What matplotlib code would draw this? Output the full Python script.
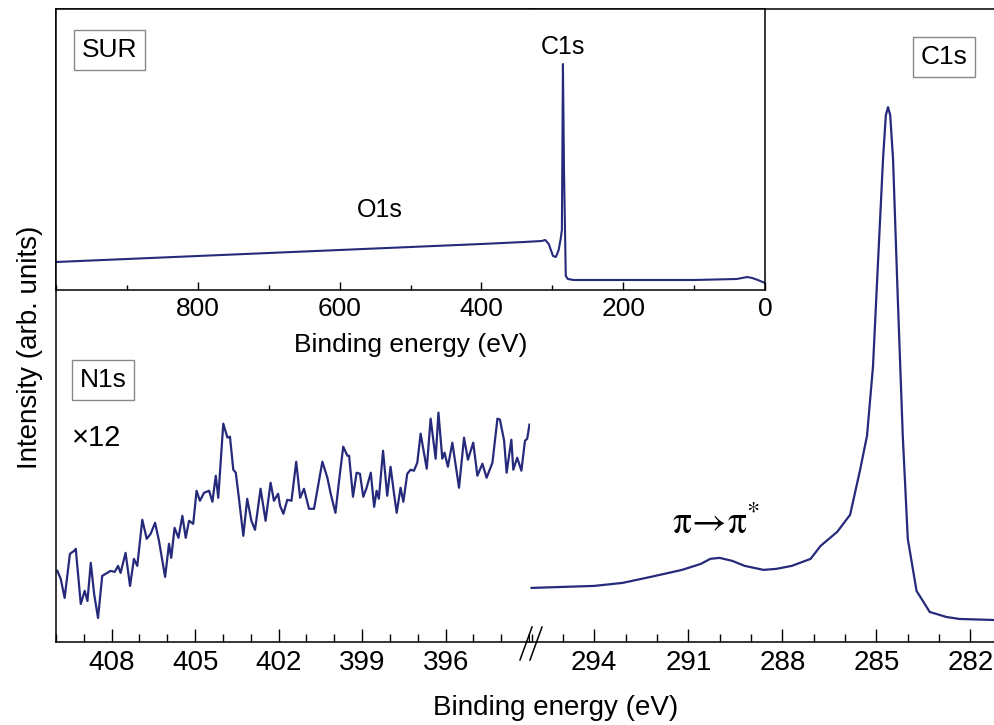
import matplotlib.pyplot as plt
from matplotlib.lines import Line2D
from matplotlib.ticker import MultipleLocator

plt.rcParams['font.family'] = ['Liberation Sans', 'DejaVu Sans']
plt.rcParams['mathtext.fontset'] = 'stix'

LINE = '#262a7a'

# N1s region (x12), binding energy in eV / intensity (arb.)
n1s_energy = [409.95, 409.83, 409.69, 409.50, 409.35, 409.29, 409.11, 408.97, 408.87, 408.75,
              408.63, 408.49, 408.34, 408.22, 408.04, 407.89, 407.77, 407.68, 407.50, 407.34,
              407.20, 407.08, 406.90, 406.74, 406.60, 406.44, 406.30, 406.08, 405.94, 405.86,
              405.74, 405.60, 405.46, 405.34, 405.22, 405.07, 404.95, 404.83, 404.68, 404.50,
              404.38, 404.26, 404.17, 403.99, 403.84, 403.75, 403.63, 403.54, 403.43, 403.27,
              403.13, 402.98, 402.85, 402.65, 402.47, 402.29, 402.17, 402.02, 401.95, 401.83,
              401.69, 401.54, 401.37, 401.23, 401.09, 400.91, 400.73, 400.43, 400.25, 400.13,
              399.96, 399.83, 399.68, 399.53, 399.47, 399.33, 399.20, 399.08, 398.96, 398.84,
              398.69, 398.57, 398.48, 398.40, 398.25, 398.10, 397.98, 397.86, 397.76, 397.62,
              397.52, 397.38, 397.26, 397.14, 397.02, 396.90, 396.68, 396.54, 396.36, 396.26,
              396.12, 396.04, 395.92, 395.76, 395.52, 395.34, 395.20, 395.01, 394.86, 394.68,
              394.53, 394.32, 394.14, 394.05, 393.90, 393.81, 393.64, 393.57, 393.43, 393.28,
              393.15, 393.07, 392.99]
n1s_counts = [71, 63, 44, 88, 91, 93, 38, 51, 41, 79,
              48, 24, 66, 68, 71, 70, 76, 69, 89, 56,
              83, 76, 122, 103, 108, 119, 101, 65, 98, 84,
              114, 104, 126, 104, 121, 118, 151, 141, 149, 151,
              140, 166, 144, 218, 204, 205, 172, 169, 144, 106,
              143, 121, 112, 153, 121, 159, 141, 148, 136, 128,
              142, 141, 180, 144, 153, 133, 133, 180, 164, 148,
              129, 161, 195, 186, 186, 145, 169, 168, 145, 154,
              169, 135, 151, 143, 191, 146, 175, 149, 129, 154,
              140, 168, 172, 171, 179, 208, 173, 223, 183, 229,
              183, 189, 175, 199, 154, 204, 182, 199, 166, 178,
              164, 179, 223, 222, 201, 169, 202, 172, 184, 171,
              201, 203, 217]

# C1s region
c1s_energy = [296.0, 295.0, 294.0, 293.1, 292.2, 291.2, 290.6, 290.3, 290.0, 289.6,
              289.2, 288.6, 288.2, 287.7, 287.1, 286.78, 286.25, 285.84, 285.52, 285.30,
              285.11, 284.95, 284.79, 284.70, 284.63, 284.56, 284.47, 284.32, 284.16, 284.00,
              283.72, 283.30, 282.77, 282.35, 281.28]
c1s_counts = [54, 55, 56, 59, 65, 72, 78, 83, 84, 81,
              76, 72, 73, 76, 83, 96, 110, 127, 172, 206,
              275, 379, 482, 526, 534, 526, 482, 344, 206, 103,
              51, 30, 25, 23, 22]

# survey (inset)
sur_energy = [1000, 900, 800, 700, 600, 500, 400, 340, 315, 310, 305, 299, 295, 291,
              288, 286.5, 285, 283.5, 281, 278, 270, 200, 100, 40, 25, 18, 10, 0]
sur_counts = [28, 31, 34, 37, 40, 43, 46, 48, 49, 50, 46, 34, 33, 40,
              52, 60, 226, 120, 14, 11, 10, 10, 10, 11, 13, 12, 10, 7]
sur_ticks = [800, 600, 400, 200, 0]

W, H = 994, 725
fig = plt.figure(figsize=(W / 100, H / 100), dpi=100)

x0, x_brk, x1 = 56 / W, 530 / W, 1.0
y0, y1 = 1 - 642 / H, 1 - 9 / H

axl = fig.add_axes([x0, y0, x_brk - x0, y1 - y0])
axr = fig.add_axes([x_brk, y0, x1 - x_brk, y1 - y0])

axl.plot(n1s_energy, n1s_counts, color=LINE, lw=1.6)
axr.plot(c1s_energy, c1s_counts, color=LINE, lw=1.6)

axl.set_xlim(410, 392.97)
axr.set_xlim(296.05, 281.25)
for ax in (axl, axr):
    ax.set_ylim(0, 632)
    ax.set_yticks([])
    ax.xaxis.set_major_locator(MultipleLocator(3))
    ax.xaxis.set_minor_locator(MultipleLocator(1))
    ax.tick_params(axis='x', which='major', direction='in', length=9.5, width=1,
                   labelsize=20, pad=6)
    ax.tick_params(axis='x', which='minor', direction='in', length=5.5, width=1)
    ax.spines['right'].set_visible(False)
    for s in ax.spines.values():
        s.set_linewidth(1.1)
axr.spines['left'].set_visible(False)
axl.set_xticks([408, 405, 402, 399, 396])

# break marks
for dx in (0, 10):
    fig.add_artist(Line2D([(520 + dx) / W, (532 + dx) / W], [1 - 660 / H, 1 - 627 / H],
                          color='black', lw=1.1))

fig.text(556 / W, 1 - 708 / H, 'Binding energy (eV)', ha='center', va='center', fontsize=20)
fig.text(30 / W, 1 - 347 / H, 'Intensity (arb. units)', ha='center', va='center',
         rotation=90, fontsize=20)

box = dict(boxstyle='square,pad=0.3', fc='white', ec='#888888', lw=1)
fig.text(944 / W, 1 - 57 / H, 'C1s', ha='center', va='center', fontsize=19, bbox=box)
fig.text(103 / W, 1 - 380 / H, 'N1s', ha='center', va='center', fontsize=19, bbox=box)
fig.text(72 / W, 1 - 438 / H, '\u00d712', ha='left', va='center', fontsize=21)
axr.text(290.1, 118, r'$\mathrm{\pi}\!\rightarrow\!\mathrm{\pi}^{*}$', ha='center',
         va='center', fontsize=27)

# inset survey spectrum
axi = fig.add_axes([x0, 1 - 290 / H, (765 - 56) / W, (290 - 9) / H])
axi.set_facecolor('white')
axi.plot(sur_energy, sur_counts, color=LINE, lw=1.5)
axi.set_xlim(1000, 0)
axi.set_ylim(0, 281)
axi.set_yticks([])
axi.set_xticks(sur_ticks)
axi.xaxis.set_minor_locator(MultipleLocator(100))
axi.tick_params(axis='x', which='major', direction='in', length=6, width=1,
                labelsize=19, pad=5)
axi.tick_params(axis='x', which='minor', direction='in', length=3.5, width=1)
for s in axi.spines.values():
    s.set_linewidth(1.1)
axi.set_xlabel('Binding energy (eV)', fontsize=19, labelpad=9)
axi.text(0.075, 0.855, 'SUR', transform=axi.transAxes, ha='center', va='center',
         fontsize=19, bbox=box)
axi.text(285, 243, 'C1s', ha='center', va='center', fontsize=18)
axi.text(543, 80, 'O1s', ha='center', va='center', fontsize=18)

fig.savefig('out.png', dpi=100)
